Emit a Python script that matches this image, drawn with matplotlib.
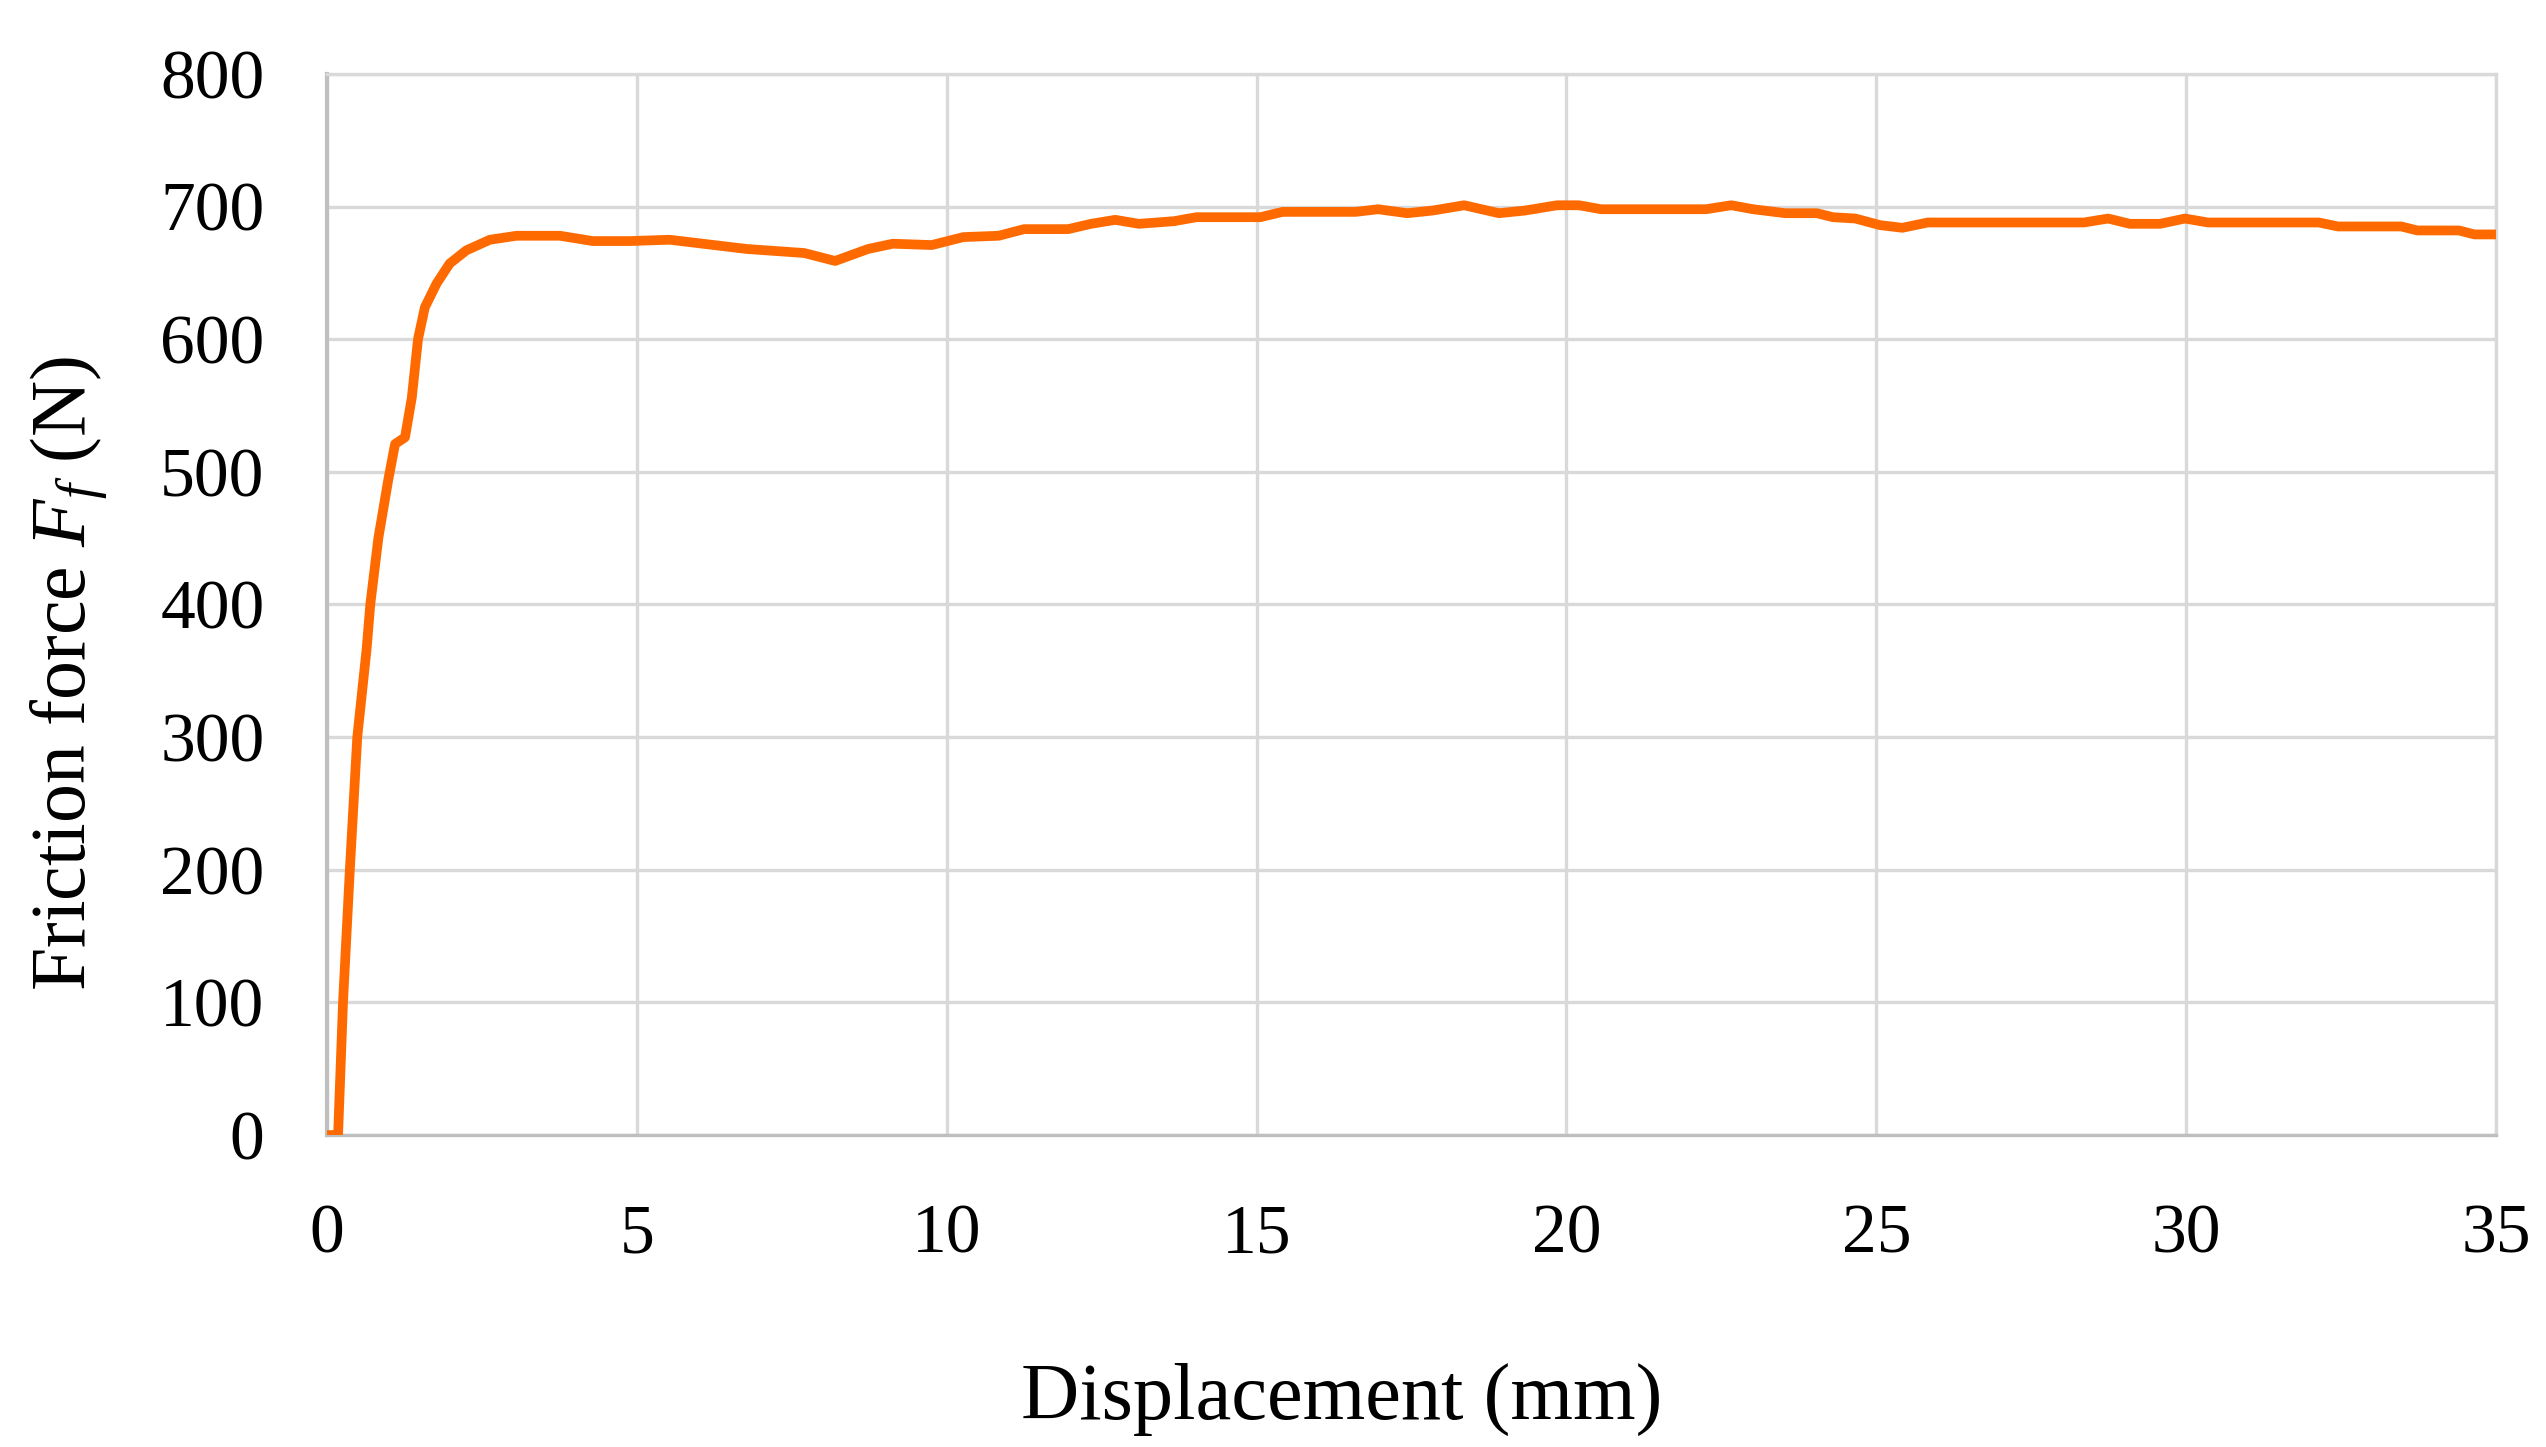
import numpy as np
import matplotlib.pyplot as plt

# displacement (mm) and friction force (N)
disp = [0.0, 0.18, 0.26, 0.37, 0.49, 0.64, 0.70, 0.83, 0.99, 1.10, 1.26, 1.37, 1.47,
        1.58, 1.77, 1.98, 2.25, 2.63, 3.06, 3.76, 4.29, 4.89, 5.53, 6.78, 7.7, 8.2,
        8.73, 9.13, 9.76, 10.27, 10.84, 11.25, 11.96, 12.33, 12.72, 13.1, 13.67,
        14.03, 15.06, 15.42, 16.6, 16.96, 17.43, 17.84, 18.35, 18.91, 19.33, 19.85,
        20.2, 20.56, 22.25, 22.66, 23.01, 23.53, 24.04, 24.3, 24.66, 25.06, 25.42,
        25.83, 28.35, 28.74, 29.09, 29.58, 29.98, 30.35, 32.14, 32.45, 33.47, 33.73,
        34.4, 34.65, 35.0]
force = [0, 0, 100, 200, 300, 366, 400, 450, 494, 521, 526, 556, 600,
         624, 642, 657, 667, 675, 678, 678, 674, 674, 675, 668, 665, 659,
         668, 672, 671, 677, 678, 683, 683, 687, 690, 687, 689,
         692, 692, 696, 696, 698, 695, 697, 701, 695, 697, 701,
         701, 698, 698, 701, 698, 695, 695, 692, 691, 686, 684,
         688, 688, 691, 687, 687, 691, 688, 688, 685, 685, 682,
         682, 679, 679]

xticks = [0, 5, 10, 15, 20, 25, 30, 35]
yticks = [0, 100, 200, 300, 400, 500, 600, 700, 800]

plt.rcParams['font.family'] = ['Liberation Serif', 'DejaVu Serif']
plt.rcParams['mathtext.fontset'] = 'custom'
plt.rcParams['mathtext.it'] = 'Liberation Serif:italic'
plt.rcParams['mathtext.rm'] = 'Liberation Serif'

fig = plt.figure(figsize=(25.46, 14.47), dpi=100)
ax = fig.add_axes([0.1284, 0.2156, 0.852, 0.7333])

ax.plot(disp, force, color='#ff6a00', linewidth=7, solid_joinstyle='round',
        solid_capstyle='round', zorder=3)

ax.set_xlim(0, 35)
ax.set_ylim(0, 800)
ax.set_xticks(xticks)
ax.set_yticks(yticks)
ax.grid(True, color='#d9d9d9', linewidth=2.4)
ax.set_axisbelow(True)
for s in ax.spines.values():
    s.set_color('#d9d9d9')
    s.set_linewidth(2.4)
ax.spines['left'].set_color('#bfbfbf')
ax.spines['left'].set_linewidth(3)
ax.spines['bottom'].set_color('#bfbfbf')
ax.tick_params(length=0, labelsize=50, colors='black')
ax.tick_params(axis='x', pad=50)
ax.tick_params(axis='y', pad=45)

ax.set_xlabel('Displacement (mm)', fontsize=58, labelpad=68)
ax.xaxis.label.set_x(0.468)
ax.set_ylabel('Friction force $F_f$ (N)', fontsize=56, labelpad=36)
ax.yaxis.label.set_y(0.435)

fig.savefig('out.png', dpi=100, facecolor='white')
